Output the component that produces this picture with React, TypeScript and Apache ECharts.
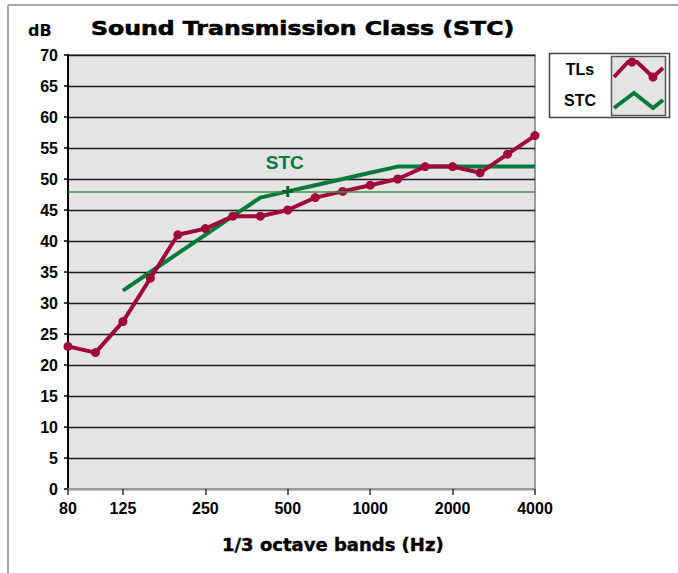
import React, { useEffect, useRef } from "react";
import * as echarts from "echarts";

const bands = ["80", "100", "125", "160", "200", "250", "315", "400", "500", "630", "800", "1000", "1250", "1600", "2000", "2500", "3150", "4000"];
const labeledBands = ["80", "125", "250", "500", "1000", "2000", "4000"];
const tlValues = [23, 22, 27, 34, 41, 42, 44, 44, 45, 47, 48, 49, 50, 52, 52, 51, 54, 57];
const stcContour: (number | null)[] = [null, null, 32, 35, 38, 41, 44, 47, 48, 49, 50, 51, 52, 52, 52, 52, 52, 52];
const stcRating = 48;
const stcBand = "500";

const TL_COLOR = "#a0063c";
const STC_COLOR = "#067a3a";

export default function App() {
  const ref = useRef<HTMLDivElement>(null);
  useEffect(() => {
    if (!ref.current) return;
    const chart = echarts.init(ref.current, null, { renderer: "svg" });
    const showBand = (_i: number, v: string) => labeledBands.includes(v);
    chart.setOption({
      animation: false,
      backgroundColor: "#ffffff",
      grid: {
        left: 68,
        top: 55,
        right: 143,
        bottom: 84,
        show: true,
        backgroundColor: "#e4e4e4",
        borderColor: "#9a9a9a",
        borderWidth: 2,
      },
      xAxis: {
        type: "category",
        data: bands,
        boundaryGap: false,
        axisLine: { show: true, lineStyle: { color: "#9a9a9a", width: 2 } },
        axisTick: { show: true, interval: showBand, length: 6, lineStyle: { color: "#333", width: 1.5 } },
        axisLabel: {
          interval: showBand,
          margin: 11,
          color: "#000",
          fontFamily: "Liberation Sans",
          fontWeight: "bold",
          fontSize: 16,
        },
        splitLine: { show: false },
      },
      yAxis: {
        type: "value",
        min: 0,
        max: 70,
        interval: 5,
        axisLine: { show: true, lineStyle: { color: "#000", width: 2 } },
        axisTick: { show: true, length: 4, lineStyle: { color: "#000", width: 1.5 } },
        axisLabel: {
          margin: 10,
          color: "#000",
          fontFamily: "Liberation Sans",
          fontWeight: "bold",
          fontSize: 16,
        },
        splitLine: { show: true, lineStyle: { color: "#1a1a1a", width: 1.3 } },
      },
      series: [
        {
          name: "STC",
          type: "line",
          data: stcContour,
          connectNulls: false,
          symbol: "none",
          lineStyle: { color: STC_COLOR, width: 4 },
          itemStyle: { color: STC_COLOR },
          z: 2,
          markLine: {
            silent: true,
            symbol: "none",
            label: { show: false },
            lineStyle: { color: "#3c963c", width: 1.6, type: "solid", opacity: 1 },
            emphasis: { disabled: true },
            data: [{ yAxis: stcRating }],
          },
          markPoint: {
            silent: true,
            symbol: "path://M-1.6,-6H1.6V-1.6H6V1.6H1.6V6H-1.6V1.6H-6V-1.6H-1.6Z",
            symbolSize: 11,
            itemStyle: { color: "#04642e" },
            label: {
              show: true,
              formatter: "STC",
              position: "inside",
              offset: [-3, -29],
              color: STC_COLOR,
              fontFamily: "Liberation Sans",
              fontWeight: "bold",
              fontSize: 19,
            },
            data: [{ coord: [stcBand, stcRating] }],
          },
        },
        {
          name: "TLs",
          type: "line",
          data: tlValues,
          symbol: "circle",
          symbolSize: 9,
          lineStyle: { color: TL_COLOR, width: 4 },
          itemStyle: { color: TL_COLOR },
          z: 3,
        },
      ],
      graphic: [
        { type: "line", shape: { x1: 8, y1: 5, x2: 678, y2: 5 }, style: { stroke: "#a8a8a8", lineWidth: 2 } },
        { type: "line", shape: { x1: 8, y1: 5, x2: 8, y2: 573 }, style: { stroke: "#a8a8a8", lineWidth: 2 } },
        {
          type: "text",
          x: 91,
          y: 28.5,
          scaleX: 1.18,
          style: {
            text: "Sound Transmission Class (STC)",
            fontFamily: "DejaVu Sans",
            fontWeight: "bold",
            fontSize: 20,
            fill: "#000",
            stroke: "#000",
            lineWidth: 0.6,
            textAlign: "left",
            textVerticalAlign: "middle",
          },
        },
        {
          type: "text",
          x: 28,
          y: 30.5,
          style: {
            text: "dB",
            fontFamily: "DejaVu Sans",
            fontWeight: "bold",
            fontSize: 16,
            fill: "#000",
            textAlign: "left",
            textVerticalAlign: "middle",
          },
        },
        {
          type: "text",
          x: 222,
          y: 545,
          scaleX: 1.06,
          style: {
            text: "1/3 octave bands (Hz)",
            fontFamily: "DejaVu Sans",
            fontWeight: "bold",
            fontSize: 17,
            fill: "#000",
            stroke: "#000",
            lineWidth: 0.4,
            textAlign: "left",
            textVerticalAlign: "middle",
          },
        },
        // legend
        { type: "rect", shape: { x: 549.5, y: 53.5, width: 120, height: 64 }, style: { fill: "#fff", stroke: "#444", lineWidth: 1.5 } },
        { type: "rect", shape: { x: 611.5, y: 56.5, width: 54, height: 59 }, style: { fill: "#e4e4e4", stroke: "#555", lineWidth: 1.5 } },
        {
          type: "text",
          x: 580,
          y: 69,
          style: { text: "TLs", fontFamily: "Liberation Sans", fontWeight: "bold", fontSize: 16, fill: "#000", textAlign: "center", textVerticalAlign: "middle" },
        },
        {
          type: "text",
          x: 580,
          y: 100,
          style: { text: "STC", fontFamily: "Liberation Sans", fontWeight: "bold", fontSize: 16, fill: "#000", textAlign: "center", textVerticalAlign: "middle" },
        },
        {
          type: "polyline",
          shape: { points: [[614, 77], [628, 62], [637, 62], [653, 77], [663, 68]] },
          style: { stroke: TL_COLOR, lineWidth: 4, fill: "none" },
        },
        { type: "circle", shape: { cx: 632, cy: 62, r: 4.5 }, style: { fill: TL_COLOR } },
        { type: "circle", shape: { cx: 653, cy: 77, r: 4.5 }, style: { fill: TL_COLOR } },
        {
          type: "polyline",
          shape: { points: [[614, 108], [634, 93], [653, 108], [663, 100]] },
          style: { stroke: STC_COLOR, lineWidth: 4, fill: "none" },
        },
      ],
    });
    return () => chart.dispose();
  }, []);
  return <div ref={ref} style={{ position: "fixed", left: 0, top: 0, width: 678, height: 573 }} />;
}
